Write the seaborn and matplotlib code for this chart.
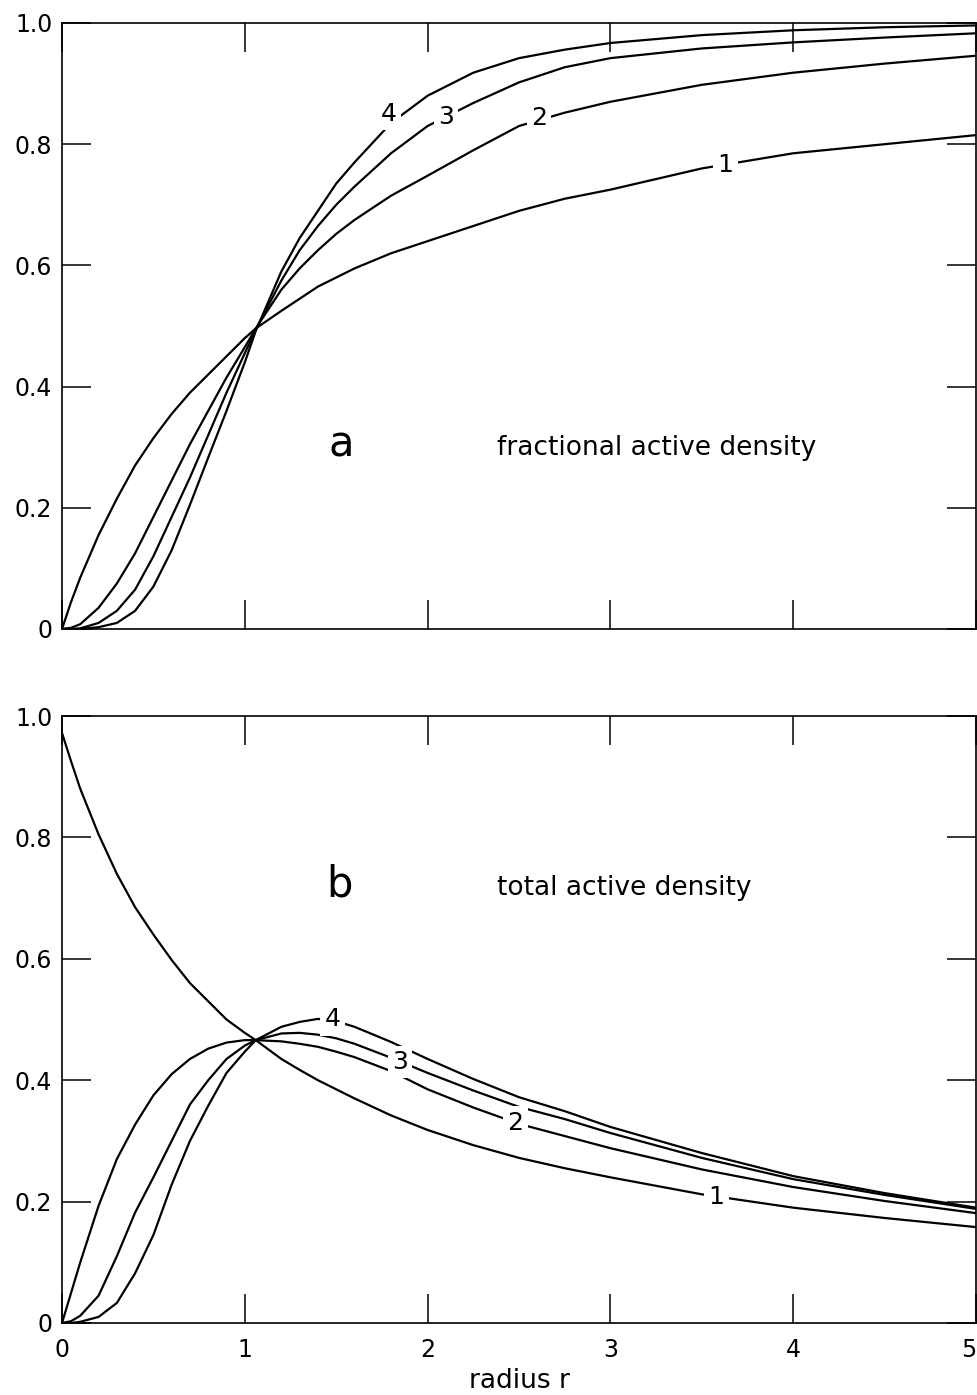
import numpy as np
import pandas as pd
import matplotlib
matplotlib.use("Agg")
import matplotlib.pyplot as plt
import seaborn as sns

# ---------------- data ----------------
radius = [0, 0.05, 0.1, 0.2, 0.3, 0.4, 0.5, 0.6, 0.7, 0.8, 0.9, 1.0, 1.06, 1.2, 1.3, 1.4,
          1.5, 1.6, 1.8, 2.0, 2.25, 2.5, 2.75, 3.0, 3.5, 4.0, 4.5, 5.0]

# panel a: fractional active density
frac_1 = [0, 0.045, 0.085, 0.155, 0.215, 0.27, 0.315, 0.355, 0.39, 0.42, 0.45, 0.48, 0.496,
          0.525, 0.545, 0.565, 0.58, 0.595, 0.62, 0.64, 0.665, 0.69, 0.71, 0.725, 0.76,
          0.785, 0.80, 0.815]
frac_2 = [0, 0.002, 0.008, 0.035, 0.075, 0.125, 0.185, 0.245, 0.305, 0.36, 0.415, 0.465, 0.496,
          0.56, 0.595, 0.625, 0.652, 0.675, 0.715, 0.748, 0.79, 0.83, 0.852, 0.87, 0.898,
          0.918, 0.933, 0.946]
frac_3 = [0, 0.0, 0.001, 0.01, 0.03, 0.065, 0.12, 0.185, 0.25, 0.32, 0.39, 0.455, 0.494,
          0.575, 0.625, 0.665, 0.70, 0.73, 0.785, 0.83, 0.868, 0.902, 0.927, 0.942, 0.958,
          0.968, 0.976, 0.983]
frac_4 = [0, 0.0, 0.0, 0.003, 0.01, 0.03, 0.07, 0.13, 0.205, 0.283, 0.36, 0.44, 0.492,
          0.59, 0.645, 0.69, 0.735, 0.77, 0.835, 0.88, 0.918, 0.942, 0.956, 0.967, 0.98,
          0.988, 0.993, 0.996]

# panel b: total active density
total_1 = [0.972, 0.925, 0.88, 0.805, 0.74, 0.685, 0.64, 0.598, 0.56, 0.53, 0.5, 0.478, 0.466,
           0.435, 0.417, 0.4, 0.385, 0.37, 0.342, 0.318, 0.293, 0.272, 0.255, 0.24, 0.212,
           0.19, 0.173, 0.158]
total_2 = [0, 0.05, 0.1, 0.193, 0.27, 0.327, 0.375, 0.41, 0.435, 0.452, 0.462, 0.466, 0.466,
           0.464, 0.46, 0.455, 0.447, 0.438, 0.415, 0.385, 0.355, 0.328, 0.308, 0.288, 0.253,
           0.224, 0.201, 0.181]
total_3 = [0, 0.003, 0.012, 0.045, 0.11, 0.182, 0.24, 0.3, 0.36, 0.4, 0.435, 0.457, 0.466,
           0.477, 0.478, 0.475, 0.469, 0.46, 0.437, 0.412, 0.383, 0.356, 0.336, 0.313, 0.272,
           0.237, 0.211, 0.188]
total_4 = [0, 0.0, 0.002, 0.01, 0.033, 0.082, 0.145, 0.228, 0.3, 0.358, 0.412, 0.447, 0.466,
           0.488, 0.496, 0.501, 0.497, 0.488, 0.463, 0.435, 0.402, 0.372, 0.349, 0.323, 0.28,
           0.242, 0.214, 0.19]

curve_names = ["1", "2", "3", "4"]
y_ticks = [0, 0.2, 0.4, 0.6, 0.8, 1.0]
y_tick_labels = ["0", "0.2", "0.4", "0.6", "0.8", "1.0"]
x_ticks = [0, 1, 2, 3, 4, 5]
x_tick_labels = ["0", "1", "2", "3", "4", "5"]

# ---------------- figure ----------------
sns.set_style("ticks")
plt.rcParams["font.family"] = ["DejaVu Sans"]
plt.rcParams["text.color"] = "black"
plt.rcParams["axes.labelcolor"] = "black"

W, H = 978, 1395
fig = plt.figure(figsize=(W / 100, H / 100), dpi=100)
ax1 = fig.add_axes([62 / W, 1 - 629 / H, 914 / W, 606 / H])
ax2 = fig.add_axes([62 / W, 1 - 1323 / H, 914 / W, 607 / H])

def long_df(series):
    rows = []
    for name, vals in zip(curve_names, series):
        for r, v in zip(radius, vals):
            rows.append((r, v, name))
    return pd.DataFrame(rows, columns=["r", "value", "curve"])

df_a = long_df([frac_1, frac_2, frac_3, frac_4])
df_b = long_df([total_1, total_2, total_3, total_4])

for ax, df in ((ax1, df_a), (ax2, df_b)):
    sns.lineplot(data=df, x="r", y="value", units="curve", estimator=None,
                 color="black", linewidth=1.6, ax=ax, legend=False, zorder=2)
    ax.set_xlim(0, 5)
    ax.set_ylim(0, 1)
    ax.set_xticks(x_ticks)
    ax.set_yticks(y_ticks)
    ax.set_yticklabels(y_tick_labels)
    ax.tick_params(direction="in", length=21, width=1.1, top=True, right=True,
                   labelsize=17, pad=7, color="black", labelcolor="black")
    ax.tick_params(axis="x", pad=11)
    for s in ax.spines.values():
        s.set_linewidth(1.2)
        s.set_color("black")
    ax.set_ylabel("")
    ax.set_xlabel("")

ax1.set_xticklabels([])
ax2.set_xticklabels(x_tick_labels)
ax2.get_xticklabels()[-1].set_horizontalalignment("right")
ax2.set_xlabel("radius r", fontsize=19, labelpad=4)

# panel letters and titles
ax1.text(1.53, 0.304, "a", fontsize=30, ha="center", va="center")
ax1.text(2.38, 0.299, "fractional active density", fontsize=19, ha="left", va="center")
ax2.text(1.52, 0.722, "b", fontsize=30, ha="center", va="center")
ax2.text(2.38, 0.717, "total active density", fontsize=19, ha="left", va="center")

# inline curve labels
label_pos_a = {"4": (1.785, 0.85), "3": (2.10, 0.845), "2": (2.61, 0.843), "1": (3.63, 0.766)}
label_pos_b = {"4": (1.48, 0.50), "3": (1.85, 0.43), "2": (2.48, 0.33), "1": (3.58, 0.207)}
box = dict(facecolor="white", edgecolor="none", pad=3)
for ax, pos in ((ax1, label_pos_a), (ax2, label_pos_b)):
    for name, (x, y) in pos.items():
        ax.text(x, y, name, fontsize=18, ha="center", va="center", bbox=box, zorder=3)

fig.savefig("out.png", dpi=100)
